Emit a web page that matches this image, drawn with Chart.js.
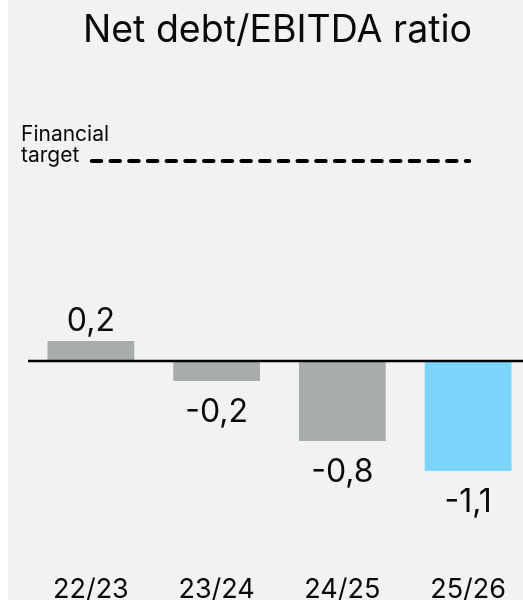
<!DOCTYPE html>
<html>
<head>
<meta charset="utf-8">
<title>Net debt/EBITDA ratio</title>
<script src="https://cdn.jsdelivr.net/npm/chart.js@4/dist/chart.umd.min.js"></script>
<style>
  html, body { margin: 0; padding: 0; background: #fff; overflow: hidden; }
  #panel { position: absolute; left: 8px; top: 0; width: 515px; height: 600px; background: #f2f2f2; overflow: hidden; }
  #ratioChart { position: absolute; left: -8px; top: 0; }
</style>
</head>
<body>
<div id="panel"><canvas id="ratioChart" width="531" height="600"></canvas></div>
<script>
// Net debt / EBITDA per financial year
const years = ['22/23', '23/24', '24/25', '25/26'];
const ratios = [0.2, -0.2, -0.8, -1.1];
const barColors = ['#a9acac', '#a9acac', '#a9acac', '#7bd5fb'];
const targetRatio = 2.0;
const targetLabel = ['Financial', 'target'];
const chartTitle = 'Net debt/EBITDA ratio';

const FONT = 'Inter, "Noto Sans", sans-serif';

function formatRatio(v) {
  return v.toFixed(1).replace('.', ',');
}

const overlay = {
  id: 'overlay',
  afterDatasetsDraw(chart) {
    const ctx = chart.ctx;
    const x = chart.scales.x;
    const y = chart.scales.y;
    const area = chart.chartArea;
    const zeroY = y.getPixelForValue(0);

    ctx.save();

    // baseline at zero
    ctx.strokeStyle = '#000';
    ctx.lineWidth = 2.5;
    ctx.beginPath();
    ctx.moveTo(area.left, zeroY);
    ctx.lineTo(area.right, zeroY);
    ctx.stroke();

    // financial target, dashed, across the years
    const targetY = y.getPixelForValue(targetRatio);
    ctx.lineWidth = 4.2;
    ctx.lineCap = 'round';
    ctx.setLineDash([9.3, 9.4]);
    ctx.beginPath();
    ctx.moveTo(x.getPixelForValue(0) + 1, targetY);
    ctx.lineTo(x.getPixelForValue(years.length - 1) + 1, targetY);
    ctx.stroke();
    ctx.setLineDash([]);

    ctx.fillStyle = '#0a0a0a';
    ctx.textAlign = 'left';
    ctx.textBaseline = 'alphabetic';
    ctx.font = '21px ' + FONT;
    ctx.fillText(targetLabel[0], 21, 141);
    ctx.fillText(targetLabel[1], 21, 162);

    // value labels above / below each bar
    ctx.textAlign = 'center';
    ctx.font = '32px ' + FONT;
    const meta = chart.getDatasetMeta(0);
    meta.data.forEach((bar, i) => {
      const v = ratios[i];
      const ty = v >= 0 ? bar.y - 10 : bar.y + 41;
      ctx.fillText(formatRatio(v), bar.x, ty);
    });

    // year labels along the bottom
    ctx.font = '27px ' + FONT;
    years.forEach((yr, i) => {
      ctx.fillText(yr, x.getPixelForValue(i), 598);
    });

    // title
    ctx.font = '37.5px ' + FONT;
    ctx.fillText(chartTitle, 277.5, 42);

    ctx.restore();
  }
};

function draw() {
  const ctx = document.getElementById('ratioChart').getContext('2d');
  new Chart(ctx, {
    type: 'bar',
    data: {
      labels: years,
      datasets: [{
        data: ratios,
        backgroundColor: barColors,
        borderWidth: 0,
        categoryPercentage: 1,
        barPercentage: 0.69
      }]
    },
    options: {
      responsive: false,
      animation: false,
      layout: { padding: { left: 28, right: 0, top: 0, bottom: 39 } },
      plugins: {
        legend: { display: false },
        tooltip: { enabled: false }
      },
      scales: {
        x: { display: false },
        y: { display: false, min: -2, max: 3.61 }
      }
    },
    plugins: [overlay]
  });
}

if (document.fonts && document.fonts.load) {
  Promise.all([
    document.fonts.load('36px Inter'),
    document.fonts.load('21px Inter')
  ]).then(draw, draw);
} else {
  draw();
}
</script>
</body>
</html>
